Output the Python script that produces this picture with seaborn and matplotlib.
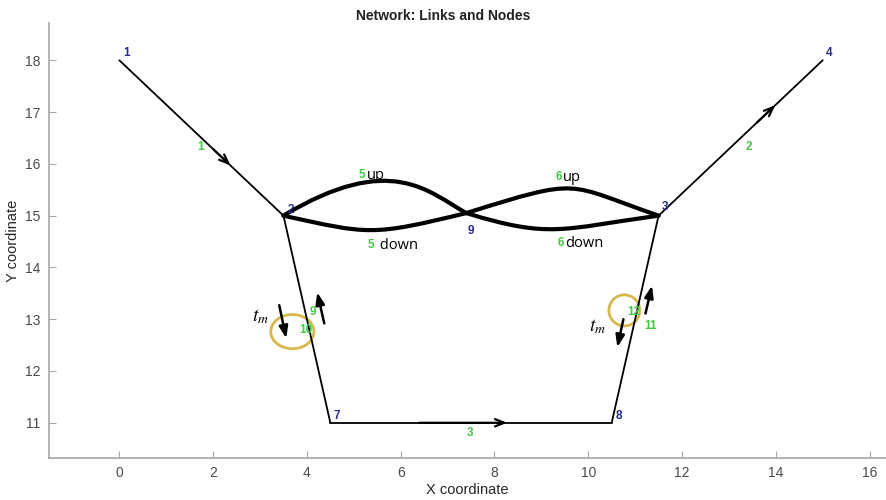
import numpy as np
import pandas as pd
import matplotlib
matplotlib.use("Agg")
import matplotlib.pyplot as plt
from matplotlib.path import Path
from matplotlib.patches import PathPatch, Ellipse
import seaborn as sns

# ---------------- data ----------------
node_ids = ["1", "2", "3", "4", "7", "8", "9"]
node_x = [0.0, 3.5, 11.5, 15.0, 4.5, 10.5, 7.4]
node_y = [18.0, 15.0, 15.0, 18.0, 11.0, 11.0, 15.05]

# straight links (from node, to node)
link_from = ["1", "3", "7", "2", "8"]
link_to = ["2", "4", "8", "7", "3"]

# curved links: cubic bezier control points (x, y)
curve_names = ["5up", "5down", "6up", "6down"]
curve_x = [[3.5, 5.8, 6.6, 7.4], [3.5, 5.33, 5.37, 7.4],
           [7.4, 9.9, 9.5, 11.5], [7.4, 9.19, 9.42, 11.5]]
curve_y = [[15.0, 16.25, 15.45, 15.05], [15.0, 14.634, 14.603, 15.05],
           [15.05, 15.76, 15.62, 15.0], [15.05, 14.55, 14.74, 15.0]]

# direction arrows on links (tail x, tail y, head x, head y)
link_arrow_tail_x = [2.0, 13.6, 6.4]
link_arrow_tail_y = [16.286, 16.8, 11.0]
link_arrow_head_x = [2.37, 13.99, 8.27]
link_arrow_head_y = [15.969, 17.134, 11.0]

# node label positions
node_label_x = [0.09, 3.58, 11.56, 15.07, 4.56, 10.58, 7.42]
node_label_y = [18.15, 15.1, 15.16, 18.15, 11.14, 11.14, 14.7]

# green link labels
link_labels = ["1", "2", "3", "9", "10", "11", "12"]
link_label_x = [1.66, 13.35, 7.42, 4.05, 3.84, 11.2, 10.83]
link_label_y = [16.32, 16.32, 10.81, 13.13, 12.8, 12.86, 13.13]

# curve labels: green number + black text
curve_label_num = ["5", "5", "6", "6"]
curve_label_txt = ["up", " down", "up", "down"]
curve_label_x = [5.1, 5.3, 9.3, 9.35]
curve_label_y = [15.78, 14.43, 15.74, 14.47]

# t_m black arrows (tail x, tail y, head x, head y)
tm_tail_x = [3.41, 4.37, 10.75, 11.22]
tm_tail_y = [13.27, 12.92, 13.0, 13.11]
tm_head_x = [3.56, 4.22, 10.62, 11.36]
tm_head_y = [12.63, 13.52, 12.46, 13.65]
tm_label_x = [3.0, 10.2]
tm_label_y = [13.05, 12.85]

# yellow circles (center x, center y, width, height)
circ_x = [3.69, 10.77]
circ_y = [12.76, 13.17]
circ_w = [0.92, 0.66]
circ_h = [0.66, 0.60]

# ---------------- style ----------------
sns.set_theme(style="white")
plt.rcParams["font.family"] = ["Liberation Sans", "DejaVu Sans"]
plt.rcParams["mathtext.fontset"] = "stix"

NAVY = "#2a2a8c"
GREEN = "#45c845"
GOLD = "#d8b74c"
SPINE = "#a6a6a6"
TICKC = "#4a4a4a"

fig = plt.figure(figsize=(8.86, 5.0), dpi=100)
ax = fig.add_axes([49 / 886, 42 / 500, 837 / 886, 435 / 500])

pos = dict(zip(node_ids, zip(node_x, node_y)))
rows = []
for i, (a, b) in enumerate(zip(link_from, link_to)):
    rows.append({"link": i, "order": 0, "x": pos[a][0], "y": pos[a][1]})
    rows.append({"link": i, "order": 1, "x": pos[b][0], "y": pos[b][1]})
links_df = pd.DataFrame(rows)
sns.lineplot(data=links_df, x="x", y="y", units="link", estimator=None,
             sort=False, color="black", lw=1.3, ax=ax, legend=False)

for cx, cy in zip(curve_x, curve_y):
    verts = list(zip(cx, cy))
    path = Path(verts, [Path.MOVETO, Path.CURVE4, Path.CURVE4, Path.CURVE4])
    ax.add_patch(PathPatch(path, facecolor="none", edgecolor="black", lw=3.0,
                           capstyle="round"))

for tx, ty, hx, hy in zip(link_arrow_tail_x, link_arrow_tail_y,
                          link_arrow_head_x, link_arrow_head_y):
    ax.annotate("", xy=(hx, hy), xytext=(tx, ty),
                arrowprops=dict(arrowstyle="->,head_length=0.55,head_width=0.22",
                                color="black", lw=1.6, shrinkA=0, shrinkB=0))

for tx, ty, hx, hy in zip(tm_tail_x, tm_tail_y, tm_head_x, tm_head_y):
    ax.annotate("", xy=(hx, hy), xytext=(tx, ty),
                arrowprops=dict(arrowstyle="-|>,head_length=0.6,head_width=0.22",
                                color="black", lw=1.8, shrinkA=0, shrinkB=0))

for x, y, w, h in zip(circ_x, circ_y, circ_w, circ_h):
    ax.add_patch(Ellipse((x, y), w, h, facecolor="none", edgecolor=GOLD, lw=2.0))

for lab, x, y in zip(node_ids, node_label_x, node_label_y):
    ax.text(x, y, lab, color=NAVY, fontsize=8.5, fontweight="bold",
            ha="left", va="center")

for lab, x, y in zip(link_labels, link_label_x, link_label_y):
    ax.text(x, y, lab, color=GREEN, fontsize=8.5, fontweight="bold",
            ha="left", va="center")

for num, txt, x, y in zip(curve_label_num, curve_label_txt, curve_label_x, curve_label_y):
    t = ax.text(x, y, num, color=GREEN, fontsize=8.5, fontweight="bold",
                ha="left", va="center")
    ax.annotate(txt, xy=(1, 0.5), xycoords=t, xytext=(1, 0),
                textcoords="offset points", color="black", fontsize=10.5,
                ha="left", va="center", family=["Open Sans", "DejaVu Sans"])

for x, y in zip(tm_label_x, tm_label_y):
    ax.text(x, y, r"$t_m$", color="black", fontsize=14, ha="center", va="center")

ax.set_xlim(-1.5, 16.35)
ax.set_ylim(10.32, 18.72)
ax.set_xticks(np.arange(0, 17, 2))
ax.set_yticks(np.arange(11, 19, 1))
ax.tick_params(bottom=True, left=True, direction="in", length=5, width=0.8,
               color=SPINE, labelcolor=TICKC, labelsize=10, pad=6)
for s in ["top", "right"]:
    ax.spines[s].set_visible(False)
for s in ["left", "bottom"]:
    ax.spines[s].set_color(SPINE)
    ax.spines[s].set_linewidth(1.2)

ax.set_xlabel("X coordinate", fontsize=10.5, color="#262626", labelpad=2)
ax.set_ylabel("Y coordinate", fontsize=10.5, color="#262626", labelpad=4)
fig.text(0.5, 0.968, "Network: Links and Nodes", ha="center", va="center",
         fontsize=10, fontweight="bold", color="#222222")

fig.savefig("out.png", dpi=100, facecolor="white")
